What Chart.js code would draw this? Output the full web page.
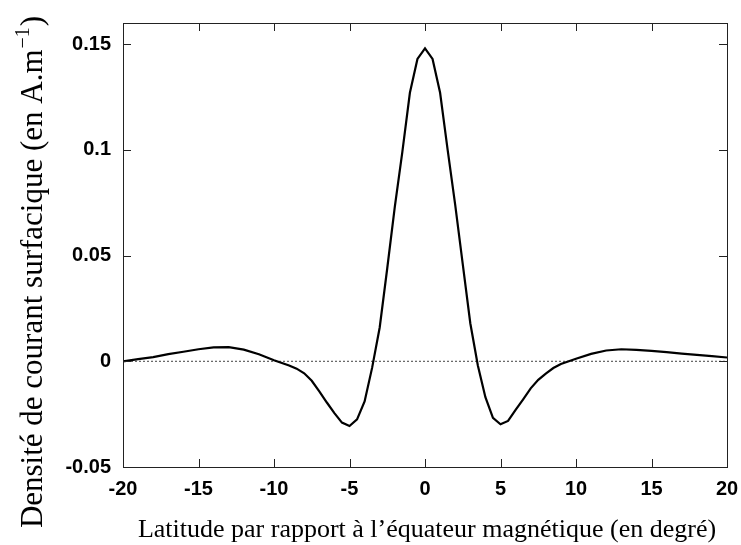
<!DOCTYPE html>
<html>
<head>
<meta charset="utf-8">
<script src="https://cdn.jsdelivr.net/npm/chart.js@4"></script>
<style>
  html, body { margin: 0; padding: 0; background: #fff; }
  #wrap { width: 741px; height: 545px; position: relative; }
</style>
</head>
<body>
<div id="wrap"><canvas id="chart"></canvas></div>
<script>
// latitude (deg) and surface current density (A/m)
const latitudes = [-20,-19,-18,-17,-16,-15,-14,-13,-12,-11,-10,-9,-8.5,-8,-7.5,-7,-6.5,-6,-5.5,-5,-4.5,-4,-3.5,-3,-2.5,-2,-1.5,-1,-0.5,0,
                   0.5,1,1.5,2,2.5,3,3.5,4,4.5,5,5.5,6,6.5,7,7.5,8,8.5,9,10,11,12,13,14,15,16,17,18,19,20];
const density = [0,0.0010,0.0020,0.0034,0.0045,0.0057,0.0066,0.0067,0.0055,0.0033,0.0005,-0.0020,-0.0035,-0.0057,-0.0092,-0.0142,-0.0195,-0.0245,-0.0290,-0.0306,-0.0275,-0.0190,-0.0030,0.0160,0.0440,0.0730,0.0990,0.1270,0.1430,0.1480,
                 0.1430,0.1270,0.1000,0.0740,0.0460,0.0180,-0.0020,-0.0170,-0.0268,-0.0298,-0.0282,-0.0230,-0.0180,-0.0128,-0.0088,-0.0058,-0.0032,-0.0013,0.0012,0.0035,0.0051,0.0057,0.0054,0.0049,0.0043,0.0036,0.0030,0.0024,0.0018];
const xTicks = [-20,-15,-10,-5,0,5,10,15,20];
const yTicks = [-0.05,0,0.05,0.1,0.15];

const xTitle = 'Latitude par rapport à l\u2019équateur magnétique (en degré)';
const yTitle = 'Densité de courant surfacique (en A.m';

const tickFont = { family: '"Liberation Sans", Arial, sans-serif', size: 20, weight: 'bold' };
const serif = '"Liberation Serif", "Times New Roman", serif';

// gnuplot-like box: frame, inward ticks on all four sides, serif axis titles
const framePlugin = {
    id: 'frame',
    afterDraw(chart){
        const ctx = chart.ctx, a = chart.chartArea;
        const xs = chart.scales.x, ys = chart.scales.y;
        ctx.save();
        ctx.strokeStyle = '#222';
        ctx.lineWidth = 1;
        ctx.strokeRect(Math.round(a.left) + 0.5, Math.round(a.top) + 0.5,
                       Math.round(a.right - a.left), Math.round(a.bottom - a.top));
        ctx.beginPath();
        const tl = 8;
        xTicks.forEach(v => {
            const px = Math.round(xs.getPixelForValue(v)) + 0.5;
            ctx.moveTo(px, a.bottom); ctx.lineTo(px, a.bottom - tl);
            ctx.moveTo(px, a.top); ctx.lineTo(px, a.top + tl);
        });
        yTicks.forEach(v => {
            const py = Math.round(ys.getPixelForValue(v)) + 0.5;
            ctx.moveTo(a.left, py); ctx.lineTo(a.left + tl, py);
            ctx.moveTo(a.right, py); ctx.lineTo(a.right - tl, py);
        });
        ctx.stroke();

        ctx.fillStyle = '#000';
        ctx.font = '26px ' + serif;
        ctx.textAlign = 'center';
        ctx.textBaseline = 'alphabetic';
        ctx.fillText(xTitle, 427, 537);

        // rotated y title with superscript -1
        ctx.translate(42, 272);
        ctx.rotate(-Math.PI / 2);
        ctx.font = '31px ' + serif;
        const mainW = ctx.measureText(yTitle).width;
        const closeW = ctx.measureText(')').width;
        ctx.font = '20px ' + serif;
        const supW = ctx.measureText('\u22121').width + 2;
        const total = mainW + supW + closeW;
        const x0 = -total / 2;
        ctx.textAlign = 'left';
        ctx.font = '31px ' + serif;
        ctx.fillText(yTitle, x0, 0);
        ctx.fillText(')', x0 + mainW + supW, 0);
        ctx.font = '20px ' + serif;
        ctx.fillText('\u22121', x0 + mainW + 1, -13);
        ctx.restore();
    }
};

new Chart(document.getElementById('chart'), {
    type: 'line',
    data: {
        datasets: [
            {
                data: latitudes.map((x, i) => ({ x: x, y: density[i] })),
                borderColor: '#000', borderWidth: 2.2, pointRadius: 0, tension: 0, fill: false
            },
            {
                data: [{ x: -20, y: 0 }, { x: 20, y: 0 }],
                borderColor: '#444', borderWidth: 1, borderDash: [2, 2], pointRadius: 0, fill: false
            }
        ]
    },
    options: {
        responsive: true,
        maintainAspectRatio: false,
        animation: false,
        layout: { padding: { left: 0, right: 14, top: 23, bottom: 0 } },
        plugins: { legend: { display: false }, tooltip: { enabled: false } },
        scales: {
            x: {
                type: 'linear', min: -20, max: 20,
                grid: { display: false, drawTicks: false },
                border: { display: false },
                afterFit: s => { s.height = 78; s.paddingLeft = 0; s.paddingRight = 0; },
                afterBuildTicks: s => { s.ticks = xTicks.map(v => ({ value: v })); },
                ticks: { color: '#000', font: tickFont, padding: 10, maxRotation: 0, autoSkip: false }
            },
            y: {
                type: 'linear', min: -0.05, max: 0.16,
                grid: { display: false, drawTicks: false },
                border: { display: false },
                afterFit: s => { s.width = 123; s.paddingTop = 0; s.paddingBottom = 0; },
                afterBuildTicks: s => { s.ticks = yTicks.map(v => ({ value: v })); },
                ticks: { color: '#000', font: tickFont, padding: 12, autoSkip: false,
                         callback: v => String(Math.round(v * 100) / 100) }
            }
        }
    },
    plugins: [framePlugin]
});
</script>
</body>
</html>
